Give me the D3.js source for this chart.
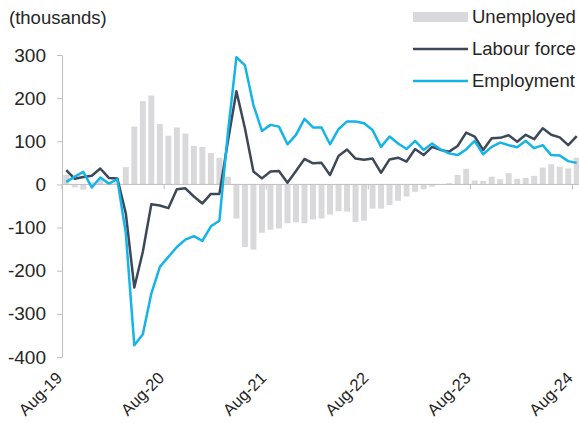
<!DOCTYPE html>
<html>
<head>
<meta charset="utf-8">
<script src="https://cdn.jsdelivr.net/npm/d3@7"></script>
<style>
  body { margin: 0; background: #fff; }
  svg { display: block; font-family: "Liberation Sans", Arial, sans-serif; }
</style>
</head>
<body>
<div id="chart"></div>
<script>
// year-on-year change, thousands, monthly Aug-19 .. Aug-24
var months = d3.timeMonths(new Date(2019, 7, 1), new Date(2024, 8, 1)).map(d3.timeFormat("%b-%y"));

var unemployed = [22, -7, -12, 5, 12, 5, 5, 40, 134, 193, 206, 140, 113, 132, 118, 89, 87, 73, 62, 18,
  -79, -145, -151, -112, -105, -102, -90, -88, -90, -81, -79, -70, -62, -63, -87, -84, -56, -56, -48, -38,
  -28, -17, -11, -5, -1, 3, 22, 36, 9, 8, 18, 12, 26, 13, 15, 20, 39, 47, 41, 37, 62];

var labourForce = [33, 13, 17, 20, 37, 15, 14, -67, -239, -156, -46, -49, -55, -11, -9, -28, -44, -22, -22, 100,
  216, 130, 30, 14, 30, 31, 4, 31, 59, 49, 50, 22, 66, 81, 60, 57, 60, 27, 58, 62,
  53, 82, 68, 87, 80, 76, 89, 120, 111, 80, 107, 108, 114, 99, 115, 105, 130, 115, 109, 91, 112];

var employment = [6, 18, 29, -7, 16, 2, 12, -113, -373, -347, -253, -191, -168, -145, -128, -120, -131, -97, -84, 120,
  295, 276, 184, 124, 138, 134, 93, 115, 152, 132, 132, 93, 128, 146, 146, 142, 126, 87, 111, 95,
  82, 101, 80, 95, 81, 72, 68, 81, 101, 70, 87, 97, 91, 86, 101, 84, 91, 68, 67, 54, 50];

var yTicks = [-400, -300, -200, -100, 0, 100, 200, 300];
var xTickLabels = ["Aug-19", "Aug-20", "Aug-21", "Aug-22", "Aug-23", "Aug-24"];

var W = 579, H = 423;
var margin = {left: 62, right: -2, top: 55, bottom: 66};

var colBar = "#d9d9db", colLF = "#3d4858", colEmp = "#14b4e8", colAxis = "#bfbfbf", colText = "#262626";

var svg = d3.select("#chart").append("svg").attr("width", W).attr("height", H);

var x = d3.scaleBand().domain(months)
  .range([margin.left, W - margin.right])
  .paddingInner(0.3).paddingOuter(0.15);
var y = d3.scaleLinear().domain([-400, 300]).range([H - margin.bottom, margin.top]);
var cx = function (i) { return x(months[i]) + x.bandwidth() / 2; };

// bars
svg.append("g").selectAll("rect")
  .data(unemployed)
  .enter().append("rect")
  .attr("x", function (d, i) { return x(months[i]); })
  .attr("width", x.bandwidth())
  .attr("y", function (d) { return y(Math.max(0, d)); })
  .attr("height", function (d) { return Math.abs(y(d) - y(0)); })
  .attr("fill", colBar);

// y axis
var yAxis = svg.append("g")
  .attr("transform", "translate(" + margin.left + ",0)")
  .call(d3.axisLeft(y).tickValues(yTicks).tickSize(5).tickSizeOuter(0).tickPadding(11));
yAxis.select(".domain").attr("stroke", colAxis);
yAxis.selectAll(".tick line").attr("stroke", colAxis);
yAxis.selectAll(".tick text").attr("fill", colText).style("font-size", "19px")
  .text(function (d) { return d; });

// zero axis with ticks at year boundaries
var half = x.step() * x.paddingInner() / 2;
svg.append("line")
  .attr("x1", margin.left).attr("x2", W - margin.right)
  .attr("y1", y(0)).attr("y2", y(0))
  .attr("stroke", colAxis).attr("stroke-width", 1);
svg.append("g").selectAll("line")
  .data(xTickLabels)
  .enter().append("line")
  .attr("x1", function (d, k) { return x(months[k * 12]) - half; })
  .attr("x2", function (d, k) { return x(months[k * 12]) - half; })
  .attr("y1", y(0)).attr("y2", y(0) + 5)
  .attr("stroke", colAxis);

svg.append("g").selectAll("text")
  .data(xTickLabels)
  .enter().append("text")
  .attr("transform", function (d, k) { return "translate(" + (cx(k * 12) - 3) + "," + 379 + ") rotate(-45)"; })
  .attr("text-anchor", "end")
  .attr("fill", colText)
  .style("font-size", "16.5px")
  .text(function (d) { return d; });

// lines
var line = d3.line()
  .x(function (d, i) { return cx(i); })
  .y(function (d) { return y(d); });

svg.append("path").attr("d", line(labourForce))
  .attr("fill", "none").attr("stroke", colLF).attr("stroke-width", 2.5).attr("stroke-linejoin", "round");
svg.append("path").attr("d", line(employment))
  .attr("fill", "none").attr("stroke", colEmp).attr("stroke-width", 2.5).attr("stroke-linejoin", "round");

// unit label
svg.append("text").attr("x", 9).attr("y", 24)
  .attr("fill", colText).style("font-size", "18.5px").text("(thousands)");

// legend
var legend = [
  {name: "Unemployed", type: "bar", color: colBar},
  {name: "Labour force", type: "line", color: colLF},
  {name: "Employment", type: "line", color: colEmp}
];
var lg = svg.append("g").selectAll("g")
  .data(legend)
  .enter().append("g")
  .attr("transform", function (d, i) { return "translate(413," + (17 + i * 32) + ")"; });
lg.filter(function (d) { return d.type === "bar"; }).append("rect")
  .attr("x", 0).attr("y", -5).attr("width", 55).attr("height", 10).attr("fill", function (d) { return d.color; });
lg.filter(function (d) { return d.type === "line"; }).append("line")
  .attr("x1", 0).attr("x2", 55).attr("y1", 0).attr("y2", 0)
  .attr("stroke", function (d) { return d.color; }).attr("stroke-width", 2.5);
lg.append("text").attr("x", 59).attr("y", 0).attr("dy", "0.35em")
  .attr("fill", colText).style("font-size", "18.5px")
  .text(function (d) { return d.name; });
</script>
</body>
</html>
